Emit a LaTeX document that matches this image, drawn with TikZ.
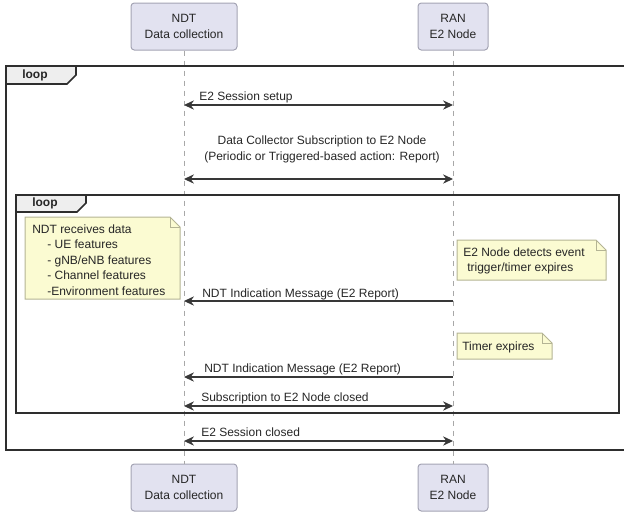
\documentclass[tikz,border=0pt]{standalone}
\usepackage{fontspec}
\setmainfont{Liberation Sans}
\usetikzlibrary{arrows.meta}
\definecolor{partfill}{HTML}{E2E2F0}
\definecolor{partdraw}{HTML}{A4A4B4}
\definecolor{notefill}{HTML}{FBFBD2}
\definecolor{notedraw}{HTML}{B4B494}
\definecolor{framec}{HTML}{2E2E2E}
\definecolor{tabfill}{HTML}{EEEEEE}
\definecolor{lifec}{HTML}{A8A8A8}
\definecolor{msgc}{HTML}{383838}
\definecolor{textc}{HTML}{262626}
\tikzset{
  part/.style={draw=partdraw, fill=partfill, rounded corners=2.5pt, line width=0.75pt,
    inner sep=0pt, align=center, text=textc, font=\fontsize{9}{12}\selectfont},
  life/.style={draw=lifec, line width=0.75pt, dash pattern=on 3.75pt off 3.75pt},
  frm/.style={draw=framec, line width=1.3pt},
  tabst/.style={draw=framec, fill=tabfill, line width=1.3pt},
  tabtext/.style={font=\bfseries\fontsize{9}{11}\selectfont, text=textc, inner sep=0pt, anchor=west},
  notest/.style={draw=notedraw, fill=notefill, line width=0.75pt},
  notetext/.style={font=\fontsize{9}{11.6}\selectfont, text=textc, inner sep=0pt, align=left, anchor=north west},
  msg/.style={draw=msgc, line width=0.8pt},
  both/.style={msg, {Stealth[length=7.5pt,width=7pt,inset=2.5pt]}-{Stealth[length=7.5pt,width=7pt,inset=2.5pt]}},
  toleft/.style={msg, {Stealth[length=7.5pt,width=7pt,inset=2.5pt]}-},
  lbl/.style={font=\fontsize{9}{12}\selectfont, text=textc, inner sep=0pt, anchor=base west},
}
\begin{document}
\begin{tikzpicture}[x=0.75pt,y=-0.75pt]
\useasboundingbox (0,0) rectangle (624,512);

% participants
\node[part, minimum width=79.5pt, minimum height=35.25pt] (ndtT) at (184,26.5) {NDT\\Data collection};
\node[part, minimum width=52.5pt, minimum height=35.25pt] (ranT) at (453,26.5) {RAN\\E2 Node};
\node[part, minimum width=79.5pt, minimum height=35.25pt] (ndtB) at (184,487.5) {NDT\\Data collection};
\node[part, minimum width=52.5pt, minimum height=35.25pt] (ranB) at (453,487.5) {RAN\\E2 Node};

% lifelines
\draw[life] (ndtT.south) -- (ndtB.north);
\draw[life] (ranT.south) -- (ranB.north);

% outer loop frame
\draw[frm] (6,66) rectangle (630,450);
\draw[tabst] (6,66) -- (76,66) -- (76,75) -- (67,84) -- (6,84) -- cycle;
\node[tabtext] (loop1) at (22,75) {loop};

% E2 session setup
\coordinate (n1) at (184,105); \coordinate (r1) at (453,105);
\draw[both] (n1) -- (r1);
\node[lbl] (l1) at (199,100.5) {E2 Session setup};

% subscription
\coordinate (n2) at (184,179); \coordinate (r2) at (453,179);
\draw[both] (n2) -- (r2);
\node[font=\fontsize{9}{12}\selectfont, text=textc, inner sep=0pt, align=center, anchor=center] (l2) at (322,149)
  {Data Collector Subscription to E2 Node\\(Periodic or Triggered-based action: Report)};

% inner loop frame
\draw[frm] (16,195) rectangle (619,413);
\draw[tabst] (16,195) -- (86,195) -- (86,203) -- (77,212) -- (16,212) -- cycle;
\node[tabtext] (loop2) at (32,203.5) {loop};

% left note
\draw[notest] (25,217) -- (170,217) -- (180,227) -- (180,299) -- (25,299) -- cycle;
\draw[notest, fill=none] (170,217) -- (170,227) -- (180,227);
\node[notetext] (noteL) at (32,224.5) {NDT receives data\\
\hspace*{11.25pt}- UE features\\
\hspace*{11.25pt}- gNB/eNB features\\
\hspace*{11.25pt}- Channel features\\
\hspace*{11.25pt}-Environment features};

% right note
\draw[notest] (457,240) -- (596,240) -- (606,250) -- (606,280) -- (457,280) -- cycle;
\draw[notest, fill=none] (596,240) -- (596,250) -- (606,250);
\node[notetext, font=\fontsize{9}{11.25}\selectfont] (noteR) at (463,247.5) {E2 Node detects event\\\hspace*{3pt}trigger/timer expires};

% indication 1
\coordinate (n3) at (184,301); \coordinate (r3) at (453,301);
\draw[toleft] (n3) -- (r3);
\node[lbl] (l3) at (202,297) {NDT Indication Message (E2 Report)};

% timer note
\draw[notest] (457,333) -- (542,333) -- (552,343) -- (552,359) -- (457,359) -- cycle;
\draw[notest, fill=none] (542,333) -- (542,343) -- (552,343);
\node[notetext, anchor=west] (noteT) at (462,347) {Timer expires};

% indication 2
\coordinate (n4) at (184,377); \coordinate (r4) at (453,377);
\draw[toleft] (n4) -- (r4);
\node[lbl] (l4) at (204,372.5) {NDT Indication Message (E2 Report)};

% subscription closed
\coordinate (n5) at (184,406); \coordinate (r5) at (453,406);
\draw[both] (n5) -- (r5);
\node[lbl] (l5) at (201,401) {Subscription to E2 Node closed};

% session closed
\coordinate (n6) at (184,441); \coordinate (r6) at (453,441);
\draw[both] (n6) -- (r6);
\node[lbl] (l6) at (201,436.5) {E2 Session closed};
\end{tikzpicture}
\end{document}
